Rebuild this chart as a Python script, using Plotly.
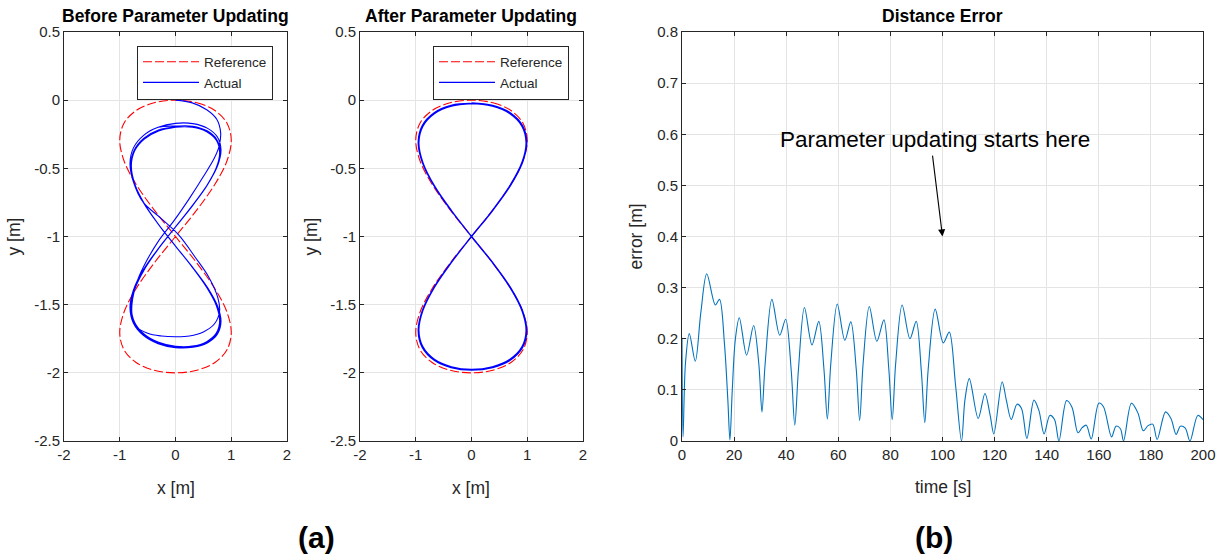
import plotly.graph_objects as go

W, H = 1226, 558

# ---------------- data ----------------
# reference figure-eight path
ref_x = [0, 0.383, 0.707, 0.924, 1.0, 0.924, 0.707, 0.383, 0, -0.383, -0.707, -0.924, -1.0, -0.924, -0.707, -0.383,
         0, 0.383, 0.707, 0.924, 1.0, 0.924, 0.707, 0.383, 0, -0.383, -0.707, -0.924, -1.0, -0.924, -0.707, -0.383, 0]
ref_y = [0, -0.019, -0.076, -0.169, -0.293, -0.444, -0.617, -0.805, -1.0, -1.195, -1.383, -1.556, -1.707, -1.831, -1.924, -1.981,
         -2.0, -1.981, -1.924, -1.831, -1.707, -1.556, -1.383, -1.195, -1.0, -0.805, -0.617, -0.444, -0.293, -0.169, -0.076, -0.019, 0]

# actual path before parameter updating: transient then three loops
before_trans_x = [0.0, 0.3, 0.56, 0.74, 0.81, 0.78, 0.69, 0.5, 0.25, -0.02, -0.3, -0.52, -0.68, -0.77, -0.78, -0.7, -0.5, -0.25,
                  0.0, 0.25, 0.5, 0.7, 0.79, 0.76, 0.6, 0.35, 0.06, -0.28, -0.577, -0.754, -0.816, -0.754, -0.577, -0.312]
before_trans_y = [0.0, -0.02, -0.07, -0.14, -0.24, -0.34, -0.43, -0.56, -0.72, -0.88, -1.03, -1.18, -1.32, -1.46, -1.57, -1.66, -1.71, -1.73,
                  -1.735, -1.73, -1.7, -1.64, -1.55, -1.45, -1.3, -1.15, -0.99, -0.86, -0.75, -0.6, -0.463, -0.35, -0.26, -0.199]
before_loopA_x = [0, 0.312, 0.577, 0.754, 0.816, 0.754, 0.577, 0.312, 0, -0.312, -0.577, -0.754, -0.816, -0.754, -0.577, -0.312,
                  0, 0.312, 0.577, 0.754, 0.816, 0.754, 0.577, 0.312, 0, -0.312, -0.577, -0.754, -0.816, -0.754, -0.577, -0.312]
before_loopA_y = [-0.17, -0.172, -0.207, -0.272, -0.365, -0.482, -0.617, -0.768, -0.93, -1.09, -1.245, -1.392, -1.524, -1.636, -1.725, -1.786,
                  -1.815, -1.812, -1.779, -1.715, -1.624, -1.51, -1.376, -1.228, -1.07, -0.908, -0.75, -0.6, -0.463, -0.35, -0.26, -0.199]
before_loopB_x = [0, 0.306, 0.566, 0.739, 0.8, 0.739, 0.566, 0.306, 0, -0.306, -0.566, -0.739, -0.8, -0.739, -0.566, -0.306,
                  0, 0.306, 0.566, 0.739, 0.8, 0.739, 0.566, 0.306, 0, -0.306, -0.566, -0.739, -0.8, -0.739, -0.566, -0.306]
before_loopB_y = [-0.19, -0.191, -0.225, -0.288, -0.378, -0.492, -0.625, -0.773, -0.93, -1.089, -1.245, -1.392, -1.524, -1.634, -1.721, -1.781,
                  -1.81, -1.809, -1.775, -1.712, -1.622, -1.508, -1.375, -1.227, -1.07, -0.911, -0.755, -0.608, -0.476, -0.366, -0.279, -0.219]
before_loopC_x = [0, 0.303, 0.56, 0.732, 0.792, 0.732, 0.56, 0.303, 0, -0.303, -0.56, -0.732, -0.792, -0.732, -0.56, -0.303,
                  0, 0.303, 0.56, 0.732, 0.792, 0.732, 0.56, 0.303, 0, -0.303, -0.56, -0.732, -0.792, -0.732, -0.56, -0.303, 0]
before_loopC_y = [-0.198, -0.199, -0.232, -0.294, -0.383, -0.496, -0.628, -0.775, -0.93, -1.088, -1.243, -1.389, -1.52, -1.63, -1.716, -1.776,
                  -1.805, -1.804, -1.771, -1.709, -1.62, -1.506, -1.374, -1.226, -1.07, -0.913, -0.758, -0.612, -0.481, -0.372, -0.286, -0.226, -0.198]

# actual path after parameter updating: two loops
after_loop1_x = [0, 0.379, 0.7, 0.915, 0.99, 0.915, 0.7, 0.379, 0, -0.366, -0.675, -0.882, -0.955, -0.882, -0.675, -0.366,
                 0, 0.379, 0.7, 0.915, 0.99, 0.915, 0.7, 0.379, 0, -0.366, -0.675, -0.882, -0.955, -0.882, -0.675, -0.366]
after_loop1_y = [-0.02, -0.039, -0.094, -0.186, -0.307, -0.455, -0.625, -0.809, -1.0, -1.191, -1.375, -1.545, -1.693, -1.814, -1.906, -1.961,
                 -1.98, -1.961, -1.906, -1.814, -1.693, -1.545, -1.375, -1.191, -1.0, -0.809, -0.625, -0.455, -0.307, -0.186, -0.094, -0.039]
after_loop2_x = [0, 0.374, 0.69, 0.905, 0.98, 0.905, 0.69, 0.374, 0, -0.36, -0.667, -0.872, -0.945, -0.872, -0.667, -0.36,
                 0, 0.374, 0.69, 0.905, 0.98, 0.905, 0.69, 0.374, 0, -0.36, -0.667, -0.872, -0.945, -0.872, -0.667, -0.36, 0]
after_loop2_y = [-0.025, -0.044, -0.099, -0.19, -0.311, -0.458, -0.627, -0.81, -1.0, -1.19, -1.373, -1.542, -1.689, -1.81, -1.901, -1.956,
                 -1.975, -1.956, -1.901, -1.81, -1.689, -1.542, -1.373, -1.19, -1.0, -0.81, -0.627, -0.458, -0.311, -0.19, -0.099, -0.044, -0.025]

# distance error vs time
err_t = [0, 0.4, 1.3, 2.8, 5.1, 7.2, 9.5, 12.8, 14.4, 16.3, 17.6, 18.4, 19.3, 20.5, 22.0, 24.8, 27.5, 29.5, 30.7, 31.9,
         34.5, 37.5, 39.8, 41.9, 43.3, 44.7, 47.0, 49.9, 52.5, 54.5, 55.8, 57.1, 59.6, 62.5, 64.8, 66.9, 68.2, 69.5,
         71.9, 74.8, 77.5, 79.4, 80.7, 82.0, 84.5, 87.5, 89.9, 91.9, 93.2, 94.5, 97.2, 100.3, 102.6, 105.0, 107.3, 108.6,
         110.3, 113.7, 116.3, 118.3, 119.7, 122.9, 124.5, 126.4, 128.6, 130.3, 132.4, 135.1, 137.0, 139.0, 141.2, 143.0,
         144.7, 147.6, 149.7, 152.0, 153.6, 155.2, 157.1, 160.0, 161.8, 164.9, 166.6, 168.3, 169.5, 172.5, 175.0, 177.1,
         178.9, 180.7, 182.4, 185.6, 187.7, 189.7, 191.3, 193.2, 195.0, 198.0, 200.0]
err_v = [0.202, 0.008, 0.15, 0.21, 0.156, 0.25, 0.327, 0.266, 0.277, 0.19, 0.08, 0.002, 0.1, 0.2, 0.241, 0.168, 0.226, 0.15, 0.057, 0.15,
         0.277, 0.207, 0.238, 0.14, 0.031, 0.14, 0.261, 0.188, 0.234, 0.14, 0.043, 0.15, 0.268, 0.197, 0.233, 0.14, 0.04, 0.15,
         0.263, 0.195, 0.237, 0.14, 0.042, 0.15, 0.266, 0.2, 0.234, 0.135, 0.036, 0.14, 0.258, 0.192, 0.213, 0.11, 0.0, 0.08,
         0.122, 0.044, 0.093, 0.05, 0.014, 0.116, 0.08, 0.042, 0.072, 0.064, 0.005, 0.08, 0.06, 0.014, 0.05, 0.042,
         0.0, 0.079, 0.066, 0.016, 0.026, 0.031, 0.004, 0.074, 0.067, 0.008, 0.029, 0.024, 0.0, 0.074, 0.055, 0.02,
         0.03, 0.033, 0.003, 0.057, 0.044, 0.013, 0.029, 0.025, 0.0, 0.05, 0.042]

xy_xticks = [-2, -1, 0, 1, 2]
xy_xlabels = ["-2", "-1", "0", "1", "2"]
xy_yticks = [-2.5, -2, -1.5, -1, -0.5, 0, 0.5]
xy_ylabels = ["-2.5", "-2", "-1.5", "-1", "-0.5", "0", "0.5"]
err_xticks = [0, 20, 40, 60, 80, 100, 120, 140, 160, 180, 200]
err_yticks = [0, 0.1, 0.2, 0.3, 0.4, 0.5, 0.6, 0.7, 0.8]
err_ylabels = ["0", "0.1", "0.2", "0.3", "0.4", "0.5", "0.6", "0.7", "0.8"]

# ---------------- figure ----------------
FONT = "Liberation Sans, Arial, Helvetica, sans-serif"
AX = "#262626"
RED = "#ff0000"
BLUE = "#0000ff"
ERRC = "#0072bd"

before_x = before_trans_x + before_loopA_x + before_loopB_x + before_loopC_x
before_y = before_trans_y + before_loopA_y + before_loopB_y + before_loopC_y
after_x = after_loop1_x + after_loop2_x
after_y = after_loop1_y + after_loop2_y

fig = go.Figure()
fig.add_trace(go.Scatter(x=ref_x, y=ref_y, mode="lines", name="Reference", xaxis="x", yaxis="y",
                         line=dict(color=RED, width=1.1, dash="9px,3px", shape="spline"), legend="legend"))
fig.add_trace(go.Scatter(x=before_x, y=before_y, mode="lines", name="Actual", xaxis="x", yaxis="y",
                         line=dict(color=BLUE, width=1.1, shape="spline"), legend="legend"))
fig.add_trace(go.Scatter(x=ref_x, y=ref_y, mode="lines", name="Reference", xaxis="x2", yaxis="y2",
                         line=dict(color=RED, width=1.1, dash="9px,3px", shape="spline"), legend="legend2"))
fig.add_trace(go.Scatter(x=after_x, y=after_y, mode="lines", name="Actual", xaxis="x2", yaxis="y2",
                         line=dict(color=BLUE, width=1.4, shape="spline"), legend="legend2"))
fig.add_trace(go.Scatter(x=err_t, y=err_v, mode="lines", name="error", xaxis="x3", yaxis="y3", showlegend=False,
                         line=dict(color=ERRC, width=1.1, shape="spline", smoothing=0.9)))

ydom = [1 - 441 / H, 1 - 32 / H]
common = dict(showline=True, linecolor=AX, linewidth=1, mirror="ticks", ticks="inside", ticklen=4,
              tickcolor=AX, tickwidth=1, showgrid=True, gridcolor="#e4e4e4", gridwidth=1, zeroline=False,
              automargin=False, tickfont=dict(family=FONT, size=15, color=AX))

legend_style = dict(xanchor="left", yanchor="top", bgcolor="white", bordercolor=AX, borderwidth=1,
                    font=dict(family=FONT, size=13.5, color=AX), itemwidth=56, tracegroupgap=0)

fig.update_layout(
    width=W, height=H, autosize=False,
    margin=dict(l=0, r=0, t=0, b=0, pad=0, autoexpand=False),
    paper_bgcolor="white", plot_bgcolor="white",
    font=dict(family=FONT, color=AX),
    xaxis=dict(domain=[64 / W, 287 / W], range=[-2, 2], tickvals=xy_xticks, ticktext=xy_xlabels, anchor="y", **common),
    yaxis=dict(domain=ydom, range=[-2.5, 0.5], tickvals=xy_yticks, ticktext=xy_ylabels, anchor="x", **common),
    xaxis2=dict(domain=[360 / W, 583 / W], range=[-2, 2], tickvals=xy_xticks, ticktext=xy_xlabels, anchor="y2", **common),
    yaxis2=dict(domain=ydom, range=[-2.5, 0.5], tickvals=xy_yticks, ticktext=xy_ylabels, anchor="x2", **common),
    xaxis3=dict(domain=[682 / W, 1203 / W], range=[0, 200], tickvals=err_xticks, anchor="y3", **common),
    yaxis3=dict(domain=ydom, range=[0, 0.8], tickvals=err_yticks, ticktext=err_ylabels, anchor="x3", **common),
    legend=dict(x=137 / W, y=1 - 45.5 / H, **legend_style),
    legend2=dict(x=433 / W, y=1 - 45.5 / H, **legend_style),
)


def px(xp, yp):
    return xp / W, 1 - yp / H


anns = []
for text, xc, yc, size, bold in [
    ("Before Parameter Updating", 175.5, 16, 17.5, True),
    ("After Parameter Updating", 471.5, 16, 17.5, True),
    ("Distance Error", 942.5, 16, 17.5, True),
    ("x [m]", 175.5, 488, 17.5, False),
    ("x [m]", 471.5, 488, 17.5, False),
    ("time [s]", 942.5, 487, 17.5, False),
    ("(a)", 316, 537, 30, True),
    ("(b)", 934, 537, 30, True),
]:
    ax_, ay_ = px(xc, yc)
    anns.append(dict(x=ax_, y=ay_, xref="paper", yref="paper", text=f"<b>{text}</b>" if bold else text,
                     showarrow=False, xanchor="center", yanchor="middle",
                     font=dict(family=FONT, size=size, color="black" if bold else AX)))

for text, xc in [("y [m]", 14), ("y [m]", 311), ("error [m]", 636)]:
    ax_, ay_ = px(xc, 236.5)
    anns.append(dict(x=ax_, y=ay_, xref="paper", yref="paper", text=text, showarrow=False, textangle=-90,
                     xanchor="center", yanchor="middle", font=dict(family=FONT, size=17.5, color=AX)))

# arrow and label in the error plot
anns.append(dict(x=100, y=0.4, xref="x3", yref="y3", ax=96.1, ay=0.561, axref="x3", ayref="y3",
                 text="", showarrow=True, arrowhead=2, arrowsize=1.3, arrowwidth=1.1, arrowcolor="black",
                 standoff=0, startstandoff=0))
anns.append(dict(x=97.1, y=0.59, xref="x3", yref="y3", text="Parameter updating starts here", showarrow=False,
                 xanchor="center", yanchor="middle", font=dict(family=FONT, size=22.5, color="black")))

fig.update_layout(annotations=anns)
fig.write_html("out.html", config={"displayModeBar": False},
               post_script="document.body.style.margin='0';document.body.style.padding='0';"
                           "document.body.style.overflow='hidden';")
